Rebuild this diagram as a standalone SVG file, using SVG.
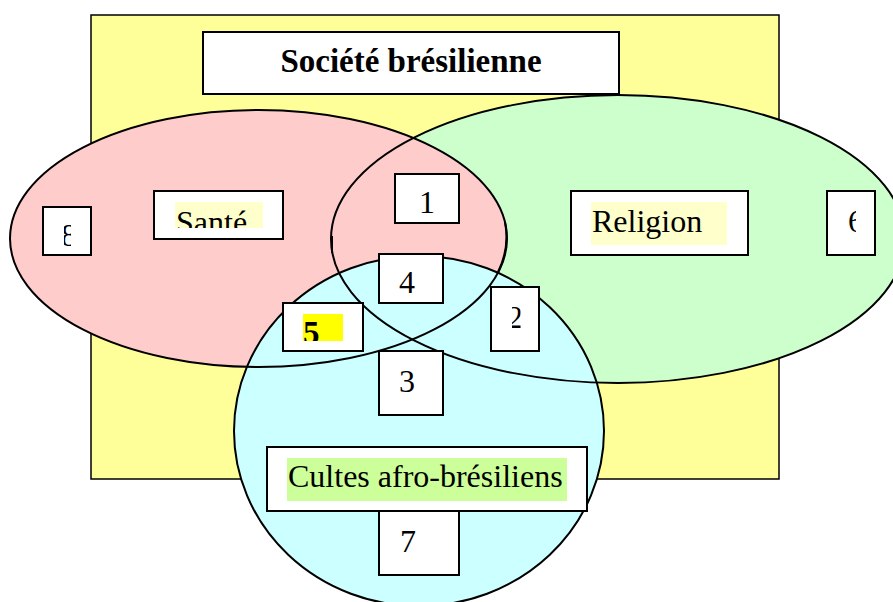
<svg xmlns="http://www.w3.org/2000/svg" width="893" height="602" viewBox="0 0 893 602">
<style>
.frame{fill:#FFFF99;stroke:#000;stroke-width:1.5}
.box{fill:#fff;stroke:#000;stroke-width:2}
.edge{fill:none;stroke:#000;stroke-width:2}
.t{font-family:"Liberation Serif","Times New Roman",serif;font-size:32px;fill:#000}
.tb{font-family:"Liberation Serif","Times New Roman",serif;font-size:33px;font-weight:bold;fill:#000}
</style>
<defs>
<clipPath id="c8"><rect x="64" y="210" width="7" height="42"/></clipPath>
<clipPath id="c6"><rect x="830" y="195" width="26" height="56"/></clipPath>
<clipPath id="c2"><rect x="512" y="290" width="8.5" height="58"/></clipPath>
<clipPath id="cS"><rect x="160" y="195" width="120" height="33"/></clipPath>
<clipPath id="c5"><rect x="286" y="306" width="74" height="35"/></clipPath>
</defs>
<rect class="frame" x="91" y="15" width="688" height="464"/>
<g id="title">
<rect class="box" x="203" y="32" width="416" height="62"/>
<text class="tb" x="411" y="72" text-anchor="middle">Société brésilienne</text>
</g>
<g id="sets">
<ellipse id="religion-set" cx="618" cy="239" rx="287" ry="144" fill="#CCFFCC"/>
<ellipse id="sante-set" cx="258.5" cy="238.5" rx="248.5" ry="128.5" fill="#FFCCCC"/>
<ellipse id="cultes-set" cx="419" cy="431" rx="185" ry="175" fill="#CCFFFF"/>
<ellipse class="edge" cx="618" cy="239" rx="287" ry="144"/>
<ellipse class="edge" cx="258.5" cy="238.5" rx="248.5" ry="128.5"/>
<ellipse class="edge" cx="419" cy="431" rx="185" ry="175"/>
<path class="edge" d="M505,222 Q510,248 498,272"/>
<path class="edge" d="M332,236 L332,253"/>
</g>
<g id="n8">
<rect class="box" x="43" y="207" width="48" height="48"/>
<text class="t" x="61" y="246" clip-path="url(#c8)">8</text>
</g>
<g id="nSante">
<rect class="box" x="154" y="191" width="129" height="48"/>
<rect x="175" y="202" width="88" height="26" fill="#FFFFCC"/>
<text class="t" x="176" y="233" clip-path="url(#cS)">Santé</text>
</g>
<g id="n1">
<rect class="box" x="395" y="174" width="64" height="49"/>
<text class="t" x="419" y="213">1</text>
</g>
<g id="nReligion">
<rect class="box" x="571" y="191" width="177" height="64"/>
<rect x="591" y="202" width="136" height="43" fill="#FFFFCC"/>
<text class="t" x="592" y="232">Religion</text>
</g>
<g id="n6">
<rect class="box" x="827" y="191" width="48" height="64"/>
<text class="t" x="848" y="232" clip-path="url(#c6)">6</text>
</g>
<g id="n4">
<rect class="box" x="379" y="254" width="64" height="49"/>
<text class="t" x="399" y="293">4</text>
</g>
<g id="n5">
<rect class="box" x="283" y="303" width="80" height="48"/>
<rect x="303" y="314" width="40" height="27" fill="#FFFF00"/>
<text class="tb" x="303" y="344" clip-path="url(#c5)">5</text>
</g>
<g id="n2">
<rect class="box" x="491" y="287" width="48" height="64"/>
<text class="t" x="507" y="328" clip-path="url(#c2)">2</text>
</g>
<g id="n3">
<rect class="box" x="379" y="351" width="64" height="64"/>
<text class="t" x="399" y="392">3</text>
</g>
<g id="nCultes">
<rect class="box" x="267" y="447" width="320" height="64"/>
<rect x="287" y="458" width="280" height="43" fill="#CCFF99"/>
<text class="t" x="288" y="487">Cultes afro-brésiliens</text>
</g>
<g id="n7">
<rect class="box" x="379" y="511" width="80" height="64"/>
<text class="t" x="400" y="552">7</text>
</g>
</svg>
